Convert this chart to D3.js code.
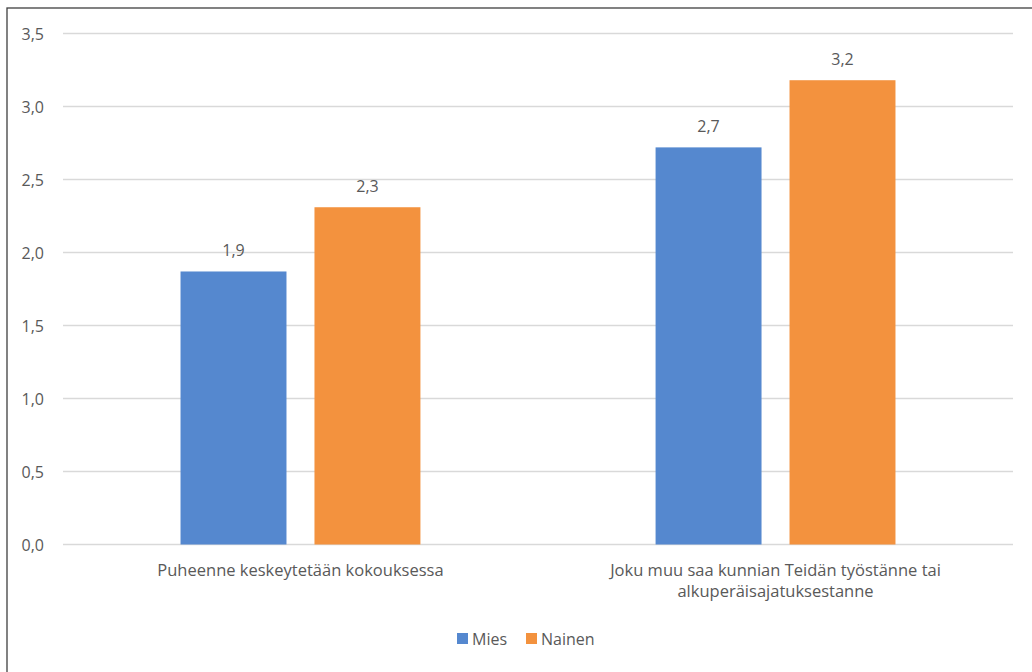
<!DOCTYPE html>
<html>
<head>
<meta charset="utf-8">
<script src="https://cdn.jsdelivr.net/npm/d3@7"></script>
<style>
  html, body { margin: 0; padding: 0; background: #fff; overflow: hidden; }
  svg { display: block; }
  text { font-family: "Open Sans", "Noto Sans", sans-serif; fill: #595959; }
</style>
</head>
<body>
<svg id="chart" width="1032" height="672"></svg>
<script>
const categories = [
  ["Puheenne keskeytetään kokouksessa"],
  ["Joku muu saa kunnian Teidän työstänne tai", "alkuperäisajatuksestanne"]
];
const seriesNames = ["Mies", "Nainen"];
const mies = [1.87, 2.72];
const nainen = [2.31, 3.18];
const labelsMies = ["1,9", "2,7"];
const labelsNainen = ["2,3", "3,2"];
const yTicks = [0, 0.5, 1.0, 1.5, 2.0, 2.5, 3.0, 3.5];
const colors = ["#5588CF", "#F3923E"];

const svg = d3.select("#chart");
const W = 1032, H = 672;

// chart border (left/top visible)
svg.append("rect")
  .attr("x", 7).attr("y", 8)
  .attr("width", W + 20).attr("height", H + 20)
  .attr("fill", "none").attr("stroke", "#3f3f3f").attr("stroke-width", 1.3);

const plotLeft = 63, plotRight = 1013;
const y = d3.scaleLinear().domain([0, 3.5]).range([544.5, 33.5]);

const catKeys = categories.map((c, i) => "c" + i);
const x0 = d3.scaleBand().domain(catKeys).range([plotLeft, plotRight])
  .paddingInner(0.495).paddingOuter(0.2474);
const x1 = d3.scaleBand().domain(seriesNames).range([0, x0.bandwidth()])
  .paddingInner(0.209);

// gridlines
svg.append("g").selectAll("line").data(yTicks).join("line")
  .attr("x1", plotLeft).attr("x2", plotRight)
  .attr("y1", d => y(d)).attr("y2", d => y(d))
  .attr("stroke", "#d9d9d9").attr("stroke-width", 1.5);

// y axis labels
const fmt = d => d3.format(".1f")(d).replace(".", ",");
svg.append("g").selectAll("text").data(yTicks).join("text")
  .attr("x", 44).attr("y", d => y(d) + 6)
  .attr("text-anchor", "end")
  .attr("font-size", 16)
  .text(fmt);

// bars
const data = catKeys.map((k, i) => ({
  key: k,
  vals: [
    { s: "Mies", v: mies[i], l: labelsMies[i], c: colors[0] },
    { s: "Nainen", v: nainen[i], l: labelsNainen[i], c: colors[1] }
  ]
}));

const groups = svg.append("g").selectAll("g").data(data).join("g")
  .attr("transform", d => `translate(${x0(d.key)},0)`);

groups.selectAll("rect").data(d => d.vals).join("rect")
  .attr("x", d => x1(d.s))
  .attr("width", x1.bandwidth())
  .attr("y", d => y(d.v))
  .attr("height", d => y(0) - y(d.v))
  .attr("fill", d => d.c);

groups.selectAll("text").data(d => d.vals).join("text")
  .attr("x", d => x1(d.s) + x1.bandwidth() / 2)
  .attr("y", d => y(d.v) - 15.5)
  .attr("text-anchor", "middle")
  .attr("font-size", 16)
  .text(d => d.l);

// category labels (one text element per line)
const lines = [];
categories.forEach((c, i) => c.forEach((t, j) => lines.push({ k: catKeys[i], t, j })));
svg.append("g").selectAll("text").data(lines).join("text")
  .attr("x", d => x0(d.k) + x0.bandwidth() / 2)
  .attr("y", d => 576 + d.j * 21)
  .attr("text-anchor", "middle")
  .attr("font-size", 16.5)
  .text(d => d.t);

// legend
const legendX = [457, 526];
const leg = svg.append("g").selectAll("g").data(seriesNames).join("g")
  .attr("transform", (d, i) => `translate(${legendX[i]},633)`);
leg.append("rect").attr("width", 11).attr("height", 11)
  .attr("fill", (d, i) => colors[i]);
leg.append("text").attr("x", 15).attr("y", 12)
  .attr("font-size", 16).text(d => d);
</script>
</body>
</html>
